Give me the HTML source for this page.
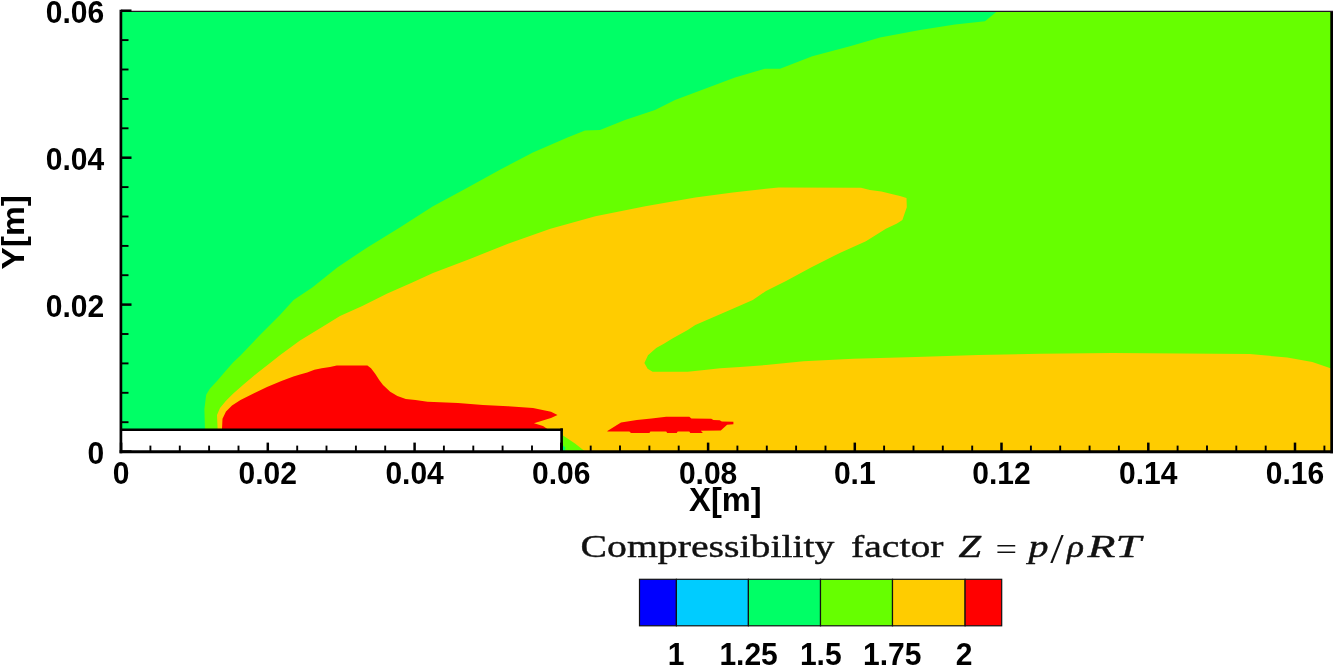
<!DOCTYPE html>
<html><head><meta charset="utf-8"><title>Compressibility factor</title>
<style>
html,body{margin:0;padding:0;background:#fff;}
body{width:1333px;height:665px;overflow:hidden;}
svg{display:block;}
.lab text{font-family:"Liberation Sans",Arial,sans-serif;font-weight:bold;font-size:30.8px;fill:#000;}
.ttl{font-family:"Liberation Serif","Times New Roman",serif;fill:#111;}
</style></head><body>
<svg width="1333" height="665" viewBox="0 0 1333 665">
<rect x="0" y="0" width="1333" height="665" fill="#fff"/>
<rect x="121" y="11.4" width="1212" height="441" fill="#00ff66"/>
<path d="M205.0,431.0 L204.4,409.1 L206.2,394.7 L209.8,388.7 L217.7,380.2 L226.0,370.6 L233.3,362.2 L240.5,355.6 L260.0,335.0 L280.0,315.0 L293.6,300.0 L312.3,287.4 L337.3,267.4 L367.3,247.4 L399.8,227.4 L433.0,206.2 L465.5,188.7 L500.4,169.5 L532.9,152.5 L567.5,137.4 L585.0,130.4 L600.0,130.0 L625.0,120.0 L655.0,110.0 L675.0,100.0 L705.0,88.7 L735.0,77.4 L765.0,68.7 L780.0,68.7 L812.3,56.2 L833.0,50.7 L850.0,46.2 L880.0,37.5 L920.0,30.0 L955.0,24.5 L985.0,21.2 L997.4,11.0 L1333.0,11.0 L1333.0,453.0 L204.4,453.0Z" fill="#66ff00"/>
<path d="M217.7,431.0 L217.0,415.0 L220.0,408.0 L226.0,400.7 L233.3,393.5 L244.1,383.9 L257.3,373.0 L268.2,364.6 L280.2,355.0 L300.0,340.5 L325.0,325.2 L340.0,316.0 L362.3,305.9 L387.3,293.6 L412.3,282.4 L433.0,272.9 L470.5,258.7 L508.0,243.7 L550.4,228.7 L595.4,216.2 L645.3,206.2 L695.3,197.5 L732.8,192.5 L766.0,188.7 L778.5,187.5 L861.0,187.7 L870.0,190.0 L881.4,191.5 L892.6,194.2 L900.0,196.0 L906.5,197.9 L906.8,207.3 L904.7,213.3 L902.4,220.1 L897.0,223.5 L885.9,228.7 L865.9,241.2 L840.9,252.4 L811.0,267.4 L786.0,281.1 L766.0,291.0 L752.8,300.0 L732.8,308.7 L695.3,325.0 L687.7,330.0 L680.5,334.0 L672.4,338.6 L664.3,343.5 L656.2,348.0 L648.0,355.3 L644.4,362.9 L647.6,368.8 L652.6,371.8 L687.7,371.8 L706.7,369.7 L720.2,368.3 L740.0,367.0 L766.0,365.0 L803.5,361.2 L853.4,358.7 L915.9,357.0 L978.3,355.0 L1040.8,353.7 L1112.4,353.0 L1249.8,354.0 L1287.3,357.5 L1312.3,362.0 L1329.8,368.0 L1333.0,369.0 L1333.0,453.0 L587.0,453.0 L575.0,443.5 L563.0,435.5 L563.0,431.0Z" fill="#ffcc00"/>
<path d="M562.5,445 L565.3,447.5 L565,451 L562.5,451Z" fill="#00ff66"/>
<path d="M221.9,431.0 L222.5,418.7 L226.0,411.5 L232.0,405.5 L240.5,400.0 L252.5,394.0 L267.0,386.9 L281.4,380.9 L293.4,376.6 L300.0,374.6 L307.2,372.5 L314.4,369.8 L321.7,368.3 L330.0,367.1 L336.7,365.5 L367.4,365.5 L371.0,368.3 L375.2,373.7 L379.4,380.3 L383.0,385.1 L390.2,391.7 L397.4,395.9 L405.8,398.9 L415.5,400.1 L427.5,401.7 L440.0,402.3 L458.0,403.0 L483.0,405.0 L508.0,406.2 L533.0,408.0 L551.0,411.7 L557.5,415.0 L551.0,418.0 L540.4,421.2 L534.0,423.2 L543.0,426.0 L550.4,431.0Z" fill="#ff0000"/>
<path d="M607.4,431.0 L621.0,422.6 L636.8,420.0 L651.5,418.4 L666.2,416.8 L689.3,416.8 L691.4,418.4 L711.3,418.7 L713.4,420.0 L719.7,420.2 L721.8,421.5 L733.4,421.7 L733.4,424.2 L727.1,424.7 L720.8,430.5 L700.8,430.7 L702.9,433.1 L690.3,433.1 L689.3,431.5 L677.7,431.5 L676.7,433.1 L667.2,433.1 L666.2,431.5 L650.4,431.5 L649.4,433.1 L631.0,433.1 L629.4,431.5 L607.4,431.5Z" fill="#ff0000"/>
<rect x="121" y="429.5" width="440.5" height="23" fill="#fff"/>
<g stroke="#000" fill="none">
<path d="M120,429.7 H562.9" stroke-width="2.6"/>
<path d="M561.6,428.4 V452" stroke-width="2.6"/>
<path d="M120.9,9.7 V453.2" stroke-width="2.7"/>
<path d="M119.6,451.7 H1333" stroke-width="3"/>
<path d="M1331.7,11 V453.2" stroke-width="2.8"/>
<path d="M120,11.4 H1333" stroke-width="1.2" stroke="#221122"/>
<line x1="121.1" y1="451.6" x2="121.1" y2="442.6" stroke-width="2.5"/>
<line x1="150.4" y1="451.6" x2="150.4" y2="445.6" stroke-width="1.9"/>
<line x1="179.8" y1="451.6" x2="179.8" y2="445.6" stroke-width="1.9"/>
<line x1="209.1" y1="451.6" x2="209.1" y2="445.6" stroke-width="1.9"/>
<line x1="238.5" y1="451.6" x2="238.5" y2="445.6" stroke-width="1.9"/>
<line x1="267.8" y1="451.6" x2="267.8" y2="442.6" stroke-width="2.5"/>
<line x1="297.2" y1="451.6" x2="297.2" y2="445.6" stroke-width="1.9"/>
<line x1="326.5" y1="451.6" x2="326.5" y2="445.6" stroke-width="1.9"/>
<line x1="355.9" y1="451.6" x2="355.9" y2="445.6" stroke-width="1.9"/>
<line x1="385.2" y1="451.6" x2="385.2" y2="445.6" stroke-width="1.9"/>
<line x1="414.6" y1="451.6" x2="414.6" y2="442.6" stroke-width="2.5"/>
<line x1="443.9" y1="451.6" x2="443.9" y2="445.6" stroke-width="1.9"/>
<line x1="473.3" y1="451.6" x2="473.3" y2="445.6" stroke-width="1.9"/>
<line x1="502.6" y1="451.6" x2="502.6" y2="445.6" stroke-width="1.9"/>
<line x1="532.0" y1="451.6" x2="532.0" y2="445.6" stroke-width="1.9"/>
<line x1="561.3" y1="451.6" x2="561.3" y2="442.6" stroke-width="2.5"/>
<line x1="590.7" y1="451.6" x2="590.7" y2="445.6" stroke-width="1.9"/>
<line x1="620.0" y1="451.6" x2="620.0" y2="445.6" stroke-width="1.9"/>
<line x1="649.4" y1="451.6" x2="649.4" y2="445.6" stroke-width="1.9"/>
<line x1="678.7" y1="451.6" x2="678.7" y2="445.6" stroke-width="1.9"/>
<line x1="708.1" y1="451.6" x2="708.1" y2="442.6" stroke-width="2.5"/>
<line x1="737.4" y1="451.6" x2="737.4" y2="445.6" stroke-width="1.9"/>
<line x1="766.8" y1="451.6" x2="766.8" y2="445.6" stroke-width="1.9"/>
<line x1="796.1" y1="451.6" x2="796.1" y2="445.6" stroke-width="1.9"/>
<line x1="825.5" y1="451.6" x2="825.5" y2="445.6" stroke-width="1.9"/>
<line x1="854.8" y1="451.6" x2="854.8" y2="442.6" stroke-width="2.5"/>
<line x1="884.1" y1="451.6" x2="884.1" y2="445.6" stroke-width="1.9"/>
<line x1="913.5" y1="451.6" x2="913.5" y2="445.6" stroke-width="1.9"/>
<line x1="942.8" y1="451.6" x2="942.8" y2="445.6" stroke-width="1.9"/>
<line x1="972.2" y1="451.6" x2="972.2" y2="445.6" stroke-width="1.9"/>
<line x1="1001.5" y1="451.6" x2="1001.5" y2="442.6" stroke-width="2.5"/>
<line x1="1030.9" y1="451.6" x2="1030.9" y2="445.6" stroke-width="1.9"/>
<line x1="1060.2" y1="451.6" x2="1060.2" y2="445.6" stroke-width="1.9"/>
<line x1="1089.6" y1="451.6" x2="1089.6" y2="445.6" stroke-width="1.9"/>
<line x1="1118.9" y1="451.6" x2="1118.9" y2="445.6" stroke-width="1.9"/>
<line x1="1148.3" y1="451.6" x2="1148.3" y2="442.6" stroke-width="2.5"/>
<line x1="1177.6" y1="451.6" x2="1177.6" y2="445.6" stroke-width="1.9"/>
<line x1="1207.0" y1="451.6" x2="1207.0" y2="445.6" stroke-width="1.9"/>
<line x1="1236.3" y1="451.6" x2="1236.3" y2="445.6" stroke-width="1.9"/>
<line x1="1265.7" y1="451.6" x2="1265.7" y2="445.6" stroke-width="1.9"/>
<line x1="1295.0" y1="451.6" x2="1295.0" y2="442.6" stroke-width="2.5"/>
<line x1="1324.4" y1="451.6" x2="1324.4" y2="445.6" stroke-width="1.9"/>
<line x1="121.1" y1="451.6" x2="131.5" y2="451.6" stroke-width="2.5"/>
<line x1="121.1" y1="422.2" x2="128.5" y2="422.2" stroke-width="1.9"/>
<line x1="121.1" y1="392.8" x2="128.5" y2="392.8" stroke-width="1.9"/>
<line x1="121.1" y1="363.4" x2="128.5" y2="363.4" stroke-width="1.9"/>
<line x1="121.1" y1="334.0" x2="128.5" y2="334.0" stroke-width="1.9"/>
<line x1="121.1" y1="304.6" x2="131.5" y2="304.6" stroke-width="2.5"/>
<line x1="121.1" y1="275.2" x2="128.5" y2="275.2" stroke-width="1.9"/>
<line x1="121.1" y1="245.9" x2="128.5" y2="245.9" stroke-width="1.9"/>
<line x1="121.1" y1="216.5" x2="128.5" y2="216.5" stroke-width="1.9"/>
<line x1="121.1" y1="187.1" x2="128.5" y2="187.1" stroke-width="1.9"/>
<line x1="121.1" y1="157.7" x2="131.5" y2="157.7" stroke-width="2.5"/>
<line x1="121.1" y1="128.3" x2="128.5" y2="128.3" stroke-width="1.9"/>
<line x1="121.1" y1="98.9" x2="128.5" y2="98.9" stroke-width="1.9"/>
<line x1="121.1" y1="69.5" x2="128.5" y2="69.5" stroke-width="1.9"/>
<line x1="121.1" y1="40.1" x2="128.5" y2="40.1" stroke-width="1.9"/>
<line x1="121.1" y1="10.7" x2="131.5" y2="10.7" stroke-width="2.5"/>
</g>
<rect x="639.5" y="579.3" width="36.9" height="46.5" fill="#0000ff" stroke="#111" stroke-width="1.2"/>
<rect x="676.4" y="579.3" width="72.0" height="46.5" fill="#00ccff" stroke="#111" stroke-width="1.2"/>
<rect x="748.4" y="579.3" width="72.1" height="46.5" fill="#00ff66" stroke="#111" stroke-width="1.2"/>
<rect x="820.5" y="579.3" width="72.0" height="46.5" fill="#66ff00" stroke="#111" stroke-width="1.2"/>
<rect x="892.5" y="579.3" width="72.6" height="46.5" fill="#ffcc00" stroke="#111" stroke-width="1.2"/>
<rect x="965.1" y="579.3" width="36.6" height="46.5" fill="#ff0000" stroke="#111" stroke-width="1.2"/>
<g class="lab">
<text transform="translate(121.1,483.6) scale(0.975,1)" text-anchor="middle">0</text>
<text transform="translate(267.8,483.6) scale(0.975,1)" text-anchor="middle">0.02</text>
<text transform="translate(414.6,483.6) scale(0.975,1)" text-anchor="middle">0.04</text>
<text transform="translate(561.3,483.6) scale(0.975,1)" text-anchor="middle">0.06</text>
<text transform="translate(708.1,483.6) scale(0.975,1)" text-anchor="middle">0.08</text>
<text transform="translate(854.8,483.6) scale(0.975,1)" text-anchor="middle">0.1</text>
<text transform="translate(1001.5,483.6) scale(0.975,1)" text-anchor="middle">0.12</text>
<text transform="translate(1148.3,483.6) scale(0.975,1)" text-anchor="middle">0.14</text>
<text transform="translate(1295.0,483.6) scale(0.975,1)" text-anchor="middle">0.16</text>
<text transform="translate(104.2,463.8) scale(0.975,1)" text-anchor="end">0</text>
<text transform="translate(104.2,316.8) scale(0.975,1)" text-anchor="end">0.02</text>
<text transform="translate(104.2,169.9) scale(0.975,1)" text-anchor="end">0.04</text>
<text transform="translate(104.2,22.9) scale(0.975,1)" text-anchor="end">0.06</text>
<text transform="translate(676.2,665.4) scale(0.975,1)" text-anchor="middle">1</text>
<text transform="translate(748.6,665.4) scale(0.975,1)" text-anchor="middle">1.25</text>
<text transform="translate(820.8,665.4) scale(0.975,1)" text-anchor="middle">1.5</text>
<text transform="translate(892.3,665.4) scale(0.975,1)" text-anchor="middle">1.75</text>
<text transform="translate(964.2,665.4) scale(0.975,1)" text-anchor="middle">2</text>
<text transform="translate(725.4,510.8) scale(0.975,1)" text-anchor="middle" style="font-size:33.5px">X[m]</text>
<text transform="translate(24.2,232.3) scale(0.95,1) rotate(-90)" text-anchor="middle" style="font-size:33.5px">Y[m]</text>
</g>
<g class="ttl" font-size="32.3" stroke="#111" stroke-width="0.4" stroke-linejoin="round">
<text x="580.5" y="556.6" textLength="254" lengthAdjust="spacingAndGlyphs">Compressibility</text>
<text x="851" y="556.6" textLength="92.5" lengthAdjust="spacingAndGlyphs">factor</text>
<text x="958.5" y="556.6" textLength="22.5" lengthAdjust="spacingAndGlyphs" font-style="italic" stroke-width="0.5">Z</text>
<text x="995.6" y="560.2" textLength="21.6" lengthAdjust="spacingAndGlyphs" stroke="none">=</text>
<text x="1028.5" y="556.6" textLength="20" lengthAdjust="spacingAndGlyphs" font-style="italic" stroke-width="0.45">p</text>
<text transform="translate(1050.3,563) scale(1.5,1.32)" stroke="none">/</text>
<text x="1067" y="556.6" textLength="17" lengthAdjust="spacingAndGlyphs" font-style="italic" stroke-width="0.5">ρ</text>
<text x="1087.5" y="556.6" textLength="53.5" lengthAdjust="spacingAndGlyphs" font-style="italic" stroke-width="0.35">RT</text>
</g>
</svg>
</body></html>
